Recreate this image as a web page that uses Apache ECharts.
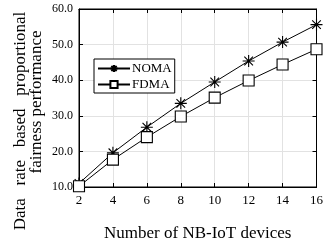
<!DOCTYPE html>
<html><head><meta charset="utf-8">
<script src="https://cdn.jsdelivr.net/npm/echarts@6/dist/echarts.min.js"></script>
<style>html,body{margin:0;padding:0;background:#fff}#c{width:326px;height:247px}</style>
</head><body><div id="c"></div>
<script>
const devices = [2, 4, 6, 8, 10, 12, 14, 16];
const noma = [11.0, 19.6, 26.8, 33.5, 39.5, 45.4, 50.7, 55.6];
const fdma = [10.2, 17.7, 24.0, 29.8, 35.1, 39.9, 44.4, 48.7];
const seriesNames = ['NOMA', 'FDMA'];
const xTitle = 'Number of NB-IoT devices';
const yTitleLine1 = 'Data   rate   based   proportional';
const yTitleLine2 = 'fairness performance';

const font = 'Liberation Serif';
const star = 'path://M0,-5L0,5M-5,0L5,0M-3.6,-3.6L3.6,3.6M-3.6,3.6L3.6,-3.6';
const chart = echarts.init(document.getElementById('c'), null, {renderer: 'canvas'});
const axisCommon = {
  axisLine: {show: true, lineStyle: {color: '#000', width: 1}},
  axisTick: {show: true, inside: true, length: 4, lineStyle: {color: '#000'}},
};
chart.setOption({
  animation: false,
  backgroundColor: '#fff',
  textStyle: {fontFamily: font},
  grid: {left: 79, right: 9, top: 9, bottom: 42, show: true, borderColor: '#000', borderWidth: 1},
  legend: {
    left: 94, top: 59, orient: 'vertical',
    backgroundColor: '#fff', borderColor: '#000', borderWidth: 1,
    padding: [3, 3, 2, 3], itemGap: 3, itemWidth: 32, itemHeight: 9,
    textStyle: {fontFamily: font, fontSize: 13, color: '#000', padding: [0, 0, 0, -3]},
    data: seriesNames
  },
  graphic: [{
    type: 'text', x: 21, y: 121, rotation: Math.PI / 2,
    style: {text: yTitleLine1, fontFamily: font, fontSize: 17, fill: '#000', align: 'center', verticalAlign: 'middle'}
  }, {
    type: 'text', x: 37, y: 102, rotation: Math.PI / 2,
    style: {text: yTitleLine2, fontFamily: font, fontSize: 17, fill: '#000', align: 'center', verticalAlign: 'middle'}
  }],
  xAxis: [{
    type: 'value', min: 2, max: 16, interval: 2, ...axisCommon,
    axisLabel: {color: '#000', fontSize: 13, fontFamily: font, margin: 7},
    splitLine: {show: true, lineStyle: {color: '#e2e2e2'}},
    name: xTitle, nameLocation: 'middle', nameGap: 38,
    nameTextStyle: {fontFamily: font, fontSize: 17, color: '#000'}
  }, {
    type: 'value', position: 'top', min: 2, max: 16, interval: 2, ...axisCommon,
    axisLabel: {show: false}, splitLine: {show: false}
  }],
  yAxis: [{
    type: 'value', min: 10, max: 60, interval: 10, ...axisCommon,
    axisLabel: {color: '#000', fontSize: 12, fontFamily: font, margin: 6, formatter: v => v.toFixed(1)},
    splitLine: {show: true, lineStyle: {color: '#e2e2e2'}}
  }, {
    type: 'value', position: 'right', min: 10, max: 60, interval: 10, ...axisCommon,
    axisLabel: {show: false}, splitLine: {show: false}
  }],
  series: [{
    name: seriesNames[0], type: 'line',
    data: devices.map((d, i) => [d, noma[i]]),
    symbol: star, symbolSize: 12,
    itemStyle: {color: 'rgba(0,0,0,0)', borderColor: '#000', borderWidth: 1.1},
    lineStyle: {color: '#000', width: 1}
  }, {
    name: seriesNames[1], type: 'line',
    data: devices.map((d, i) => [d, fdma[i]]),
    symbol: 'rect', symbolSize: 11,
    itemStyle: {color: '#fff', borderColor: '#000', borderWidth: 1.1},
    lineStyle: {color: '#000', width: 1}
  }]
});
</script></body></html>
